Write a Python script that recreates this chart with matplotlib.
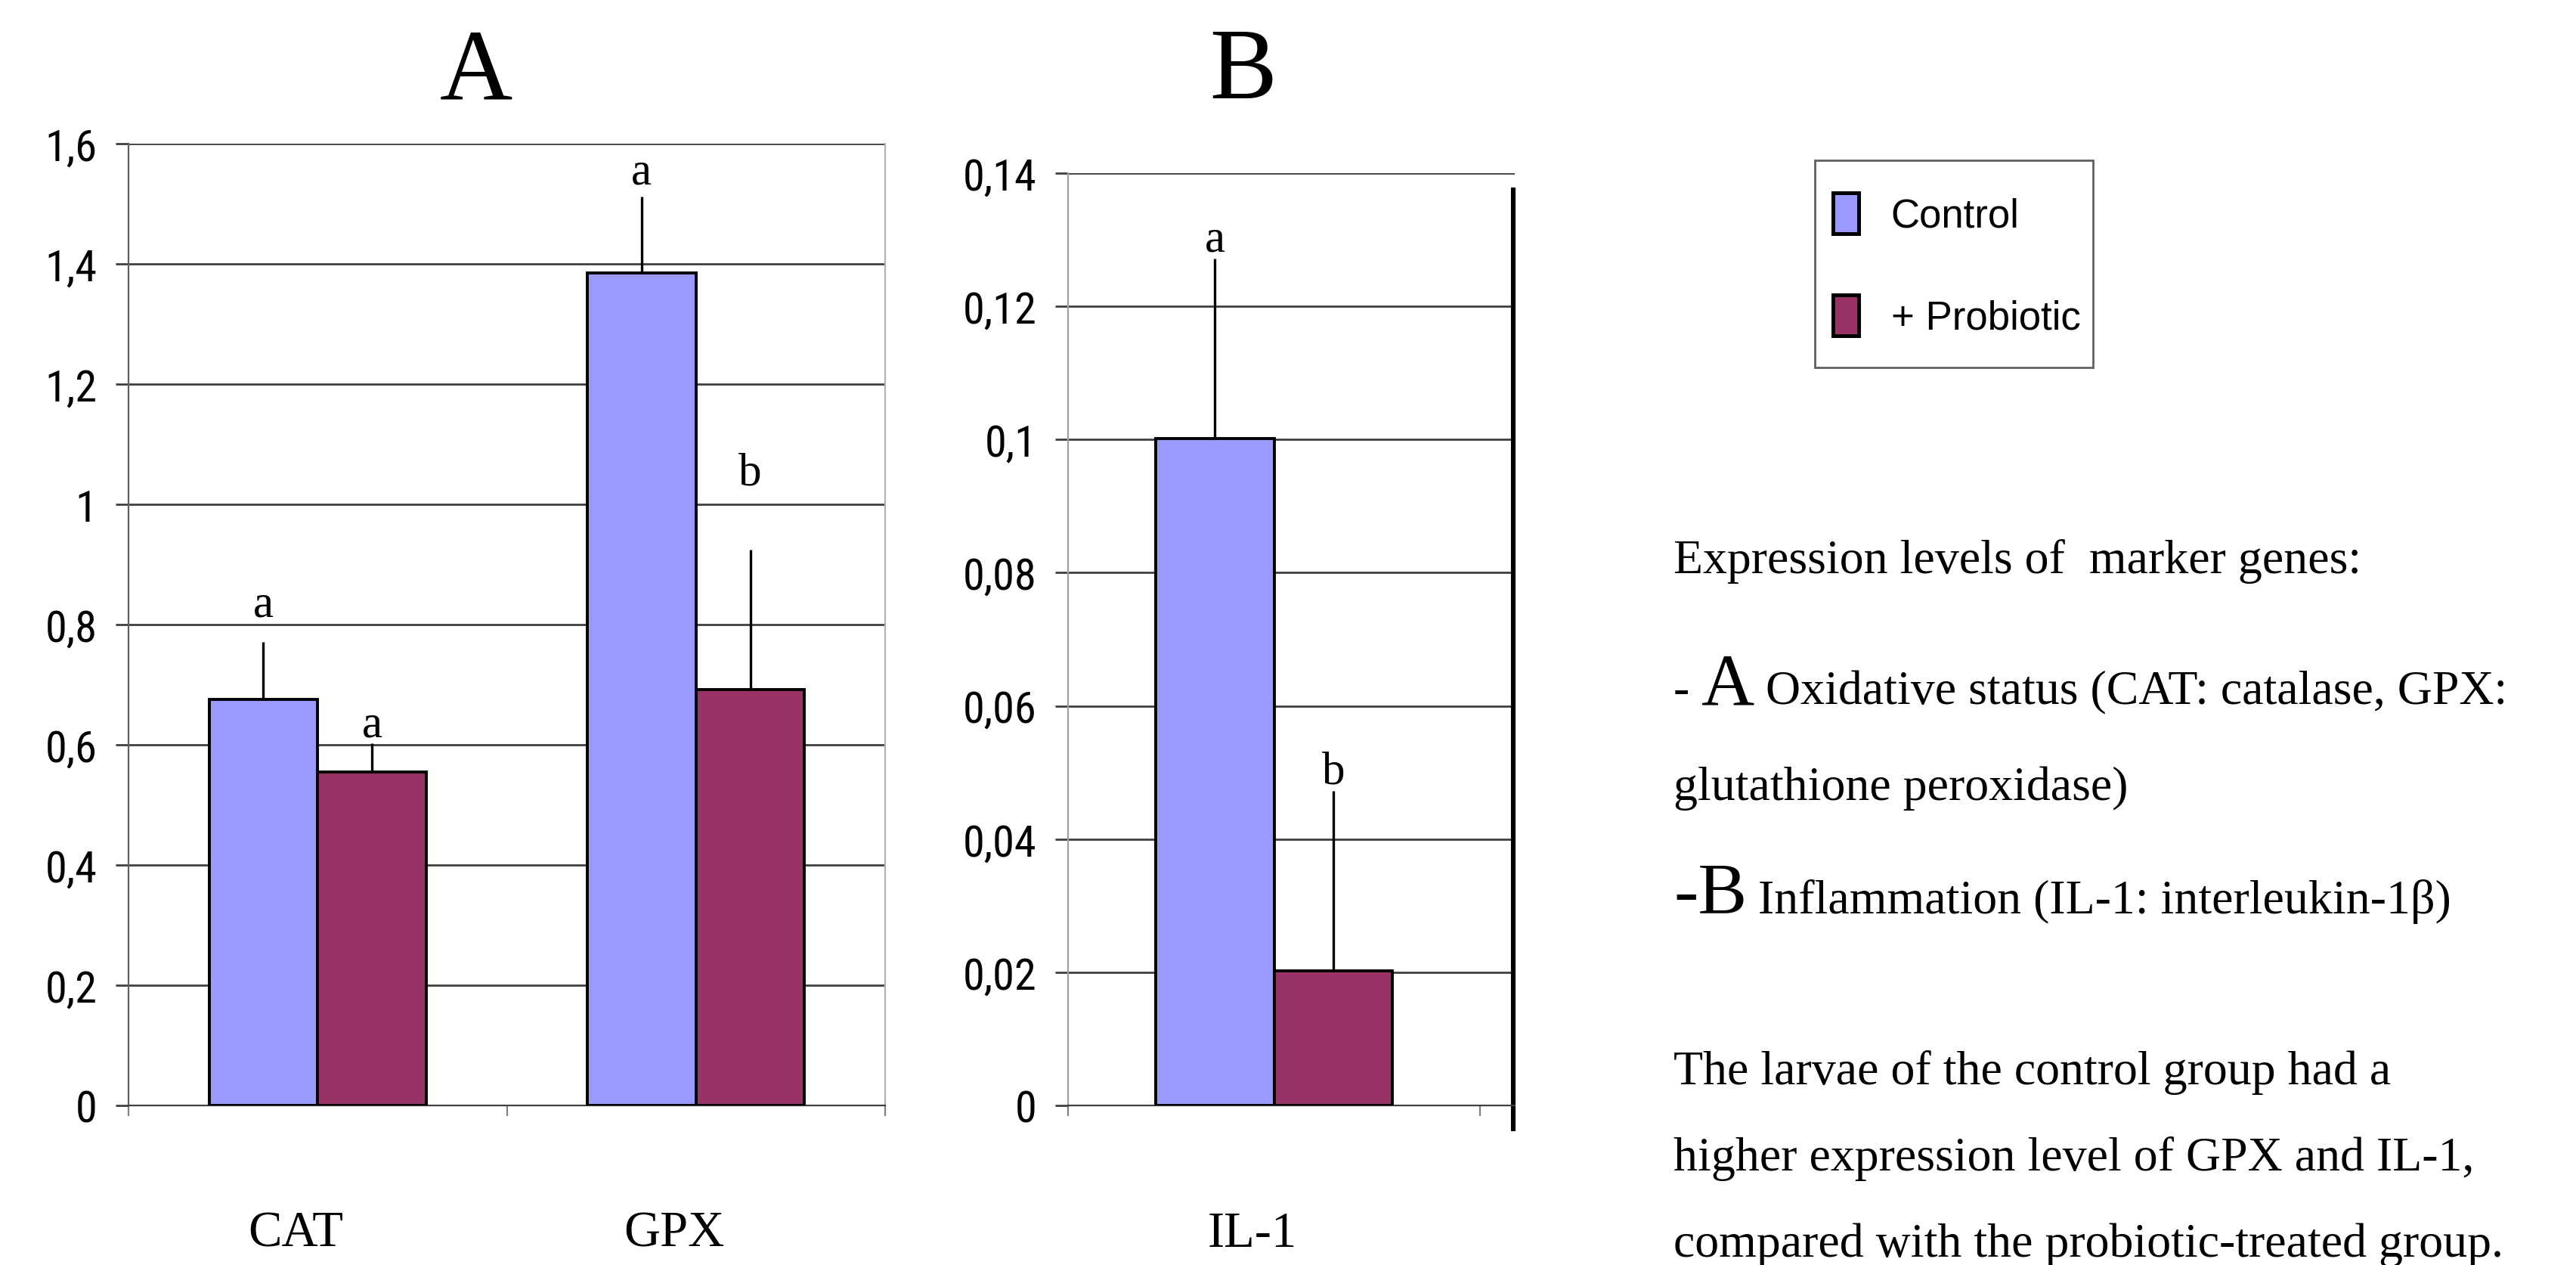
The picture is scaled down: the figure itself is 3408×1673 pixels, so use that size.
import os
import numpy as np
import matplotlib.pyplot as plt
import matplotlib.transforms as mtransforms
from matplotlib import font_manager
from matplotlib.patches import Rectangle

# Data
genes_a = ['CAT', 'GPX']
control_a = [0.675, 1.385]
control_a_err = [0.096, 0.127]
probiotic_a = [0.555, 0.692]
probiotic_a_err = [0.047, 0.232]
control_a_letters = ['a', 'a']
probiotic_a_letters = ['a', 'b']
control_a_letter_y = [0.815, 1.534]
probiotic_a_letter_y = [0.615, 1.033]

genes_b = ['IL-1']
control_b = [0.1002]
control_b_err = [0.027]
probiotic_b = [0.0202]
probiotic_b_err = [0.027]
control_b_letters = ['a']
probiotic_b_letters = ['b']
control_b_letter_y = [0.1284]
probiotic_b_letter_y = [0.0484]

ticks_a = [0, 0.2, 0.4, 0.6, 0.8, 1.0, 1.2, 1.4, 1.6]
tick_labels_a = ['0', '0,2', '0,4', '0,6', '0,8', '1', '1,2', '1,4', '1,6']
ticks_b = [0, 0.02, 0.04, 0.06, 0.08, 0.10, 0.12, 0.14]
tick_labels_b = ['0', '0,02', '0,04', '0,06', '0,08', '0,1', '0,12', '0,14']

CONTROL_COLOR = '#9999FF'
PROBIOTIC_COLOR = '#993366'
SERIF = 'Liberation Serif'
SANS = 'Liberation Sans'


def pick_tick_font():
    # the tick labels are a condensed Arial-like face; use one if installed
    fonts = font_manager.fontManager.ttflist
    names = {f.name for f in fonts}
    for name in ['Liberation Sans Narrow', 'Arial Narrow', 'Roboto Condensed',
                 'Open Sans Condensed', 'Noto Sans Condensed']:
        if name in names:
            return font_manager.FontProperties(family=name, size=21)
    for f in fonts:
        base = os.path.basename(f.fname)
        if 'Condensed' in base and 'Bold' not in base and 'Italic' not in base \
                and 'Light' not in base and 'Serif' not in base and 'Mono' not in base:
            return font_manager.FontProperties(fname=f.fname, size=21)
    return font_manager.FontProperties(family=SANS, size=20)


TICK_FONT = pick_tick_font()

W, H, DPI = 3408, 1674, 200
fig = plt.figure(figsize=(W / DPI, H / DPI), dpi=DPI)


def draw_panel(ax, genes, ctrl, ctrl_err, prob, prob_err, letters, letter_y):
    x = np.arange(len(genes))
    width = 0.287
    ax.bar(x - width / 2, ctrl, width, color=CONTROL_COLOR, edgecolor='black',
           linewidth=1.4, zorder=3)
    ax.bar(x + width / 2, prob, width, color=PROBIOTIC_COLOR, edgecolor='black',
           linewidth=1.4, zorder=3)
    for xs, vals, errs in [(x - width / 2, ctrl, ctrl_err), (x + width / 2, prob, prob_err)]:
        ax.errorbar(xs, vals, yerr=[np.zeros(len(errs)), errs], fmt='none',
                    ecolor='black', elinewidth=1.2, capsize=0, zorder=4)
    for xs, labs, ys in [(x - width / 2, letters[0], letter_y[0]),
                         (x + width / 2, letters[1], letter_y[1])]:
        for xi, lab, yi in zip(xs, labs, ys):
            ax.text(xi, yi, lab, ha='center', va='baseline', fontsize=22,
                    family=SERIF, zorder=5)
    ax.yaxis.grid(True, color='#404040', linewidth=1.0, zorder=0)
    ax.set_axisbelow(True)
    ax.tick_params(axis='y', length=6, width=1.0, color='#404040', pad=9)
    ax.set_xticks(np.arange(len(genes) + 1) - 0.5)
    ax.set_xticklabels([])
    ax.tick_params(axis='x', which='major', length=5, width=0.8, color='#808080')
    ax.set_xticks(x, minor=True)
    ax.set_xticklabels(genes, minor=True, fontsize=24, family=SERIF)
    ax.tick_params(axis='x', which='minor', length=0, pad=50)
    shift = mtransforms.ScaledTranslation(-10.5 / 72, 0, fig.dpi_scale_trans)
    for lab in ax.get_xticklabels(minor=True):
        lab.set_transform(lab.get_transform() + shift)
    ax.spines['top'].set_visible(False)
    ax.spines['left'].set_color('#606060')
    ax.spines['bottom'].set_color('#404040')


# Panel A
ax_a = fig.add_axes([170 / W, 1 - 1463 / H, 1001 / W, 1272 / H])
draw_panel(ax_a, genes_a, control_a, control_a_err, probiotic_a, probiotic_a_err,
           (control_a_letters, probiotic_a_letters),
           (control_a_letter_y, probiotic_a_letter_y))
ax_a.set_xlim(-0.5, 1.5)
ax_a.set_ylim(0, 1.6)
ax_a.set_yticks(ticks_a)
ax_a.set_yticklabels(tick_labels_a, fontproperties=TICK_FONT)
ax_a.spines['right'].set_color('#b0b0b0')

# Panel B
ax_b = fig.add_axes([1413 / W, 1 - 1463 / H, 591 / W, 1233 / H])
draw_panel(ax_b, genes_b, control_b, control_b_err, probiotic_b, probiotic_b_err,
           (control_b_letters, probiotic_b_letters),
           (control_b_letter_y, probiotic_b_letter_y))
ax_b.set_xlim(-0.5, 0.584)
ax_b.set_ylim(0, 0.14)
ax_b.set_yticks(ticks_b)
ax_b.set_yticklabels(tick_labels_b, fontproperties=TICK_FONT)
ax_b.spines['right'].set_visible(False)
ax_b.spines['left'].set_color('#a0a0a0')
ax_b.plot([0.996, 0.996], [-0.025, 0.982], transform=ax_b.transAxes,
          color='black', linewidth=2.2, clip_on=False)

# Panel titles
fig.text(630 / W, 1 - 98 / H, 'A', ha='center', va='center', fontsize=48, family=SERIF)
fig.text(1645 / W, 1 - 98 / H, 'B', ha='center', va='center', fontsize=48, family=SERIF)

# Legend: frameless legend inside a hand-drawn box
handles = [Rectangle((0, 0), 1, 1, facecolor=CONTROL_COLOR, edgecolor='black', linewidth=1.8),
           Rectangle((0, 0), 1, 1, facecolor=PROBIOTIC_COLOR, edgecolor='black', linewidth=1.8)]
fig.legend(handles, ['Control', '+ Probiotic'], loc='upper left',
           bbox_to_anchor=(2425 / W, 1 - 256 / H), borderaxespad=0, borderpad=0,
           prop={'family': SANS, 'size': 19}, handlelength=0.65, handleheight=1.2,
           handletextpad=0.8, labelspacing=1.5, frameon=False)
fig.patches.append(Rectangle((2401 / W, 1 - 487 / H), 368 / W, 274 / H,
                             transform=fig.transFigure, fill=False,
                             edgecolor='#606060', linewidth=1.0))

# Description text
renderer = fig.canvas.get_renderer()


def add_runs(x_px, base_px, runs):
    x = x_px
    for s, size, gap in runs:
        t = fig.text(x / W, 1 - base_px / H, s, fontsize=size, family=SERIF,
                     ha='left', va='baseline')
        bb = t.get_window_extent(renderer)
        x += bb.width + gap * size * DPI / 72


small, big = 23, 35
add_runs(2214, 758, [('Expression levels of  marker genes:', small, 0.25)])
add_runs(2214, 931, [('-', small, 0.25), ('A', big, 0.15),
                     ('Oxidative status (CAT: catalase, GPX:', small, 0.25)])
add_runs(2214, 1058, [('glutathione peroxidase)', small, 0.25)])
add_runs(2214, 1208, [('-B', big, 0.15), ('Inflammation (IL-1: interleukin-1\u03b2)', small, 0.25)])
add_runs(2214, 1434, [('The larvae of the control group had a', small, 0.25)])
add_runs(2214, 1548, [('higher expression level of GPX and IL-1,', small, 0.25)])
add_runs(2214, 1662, [('compared with the probiotic-treated group.', small, 0.25)])

fig.savefig('out.png', dpi=DPI, facecolor='white')
